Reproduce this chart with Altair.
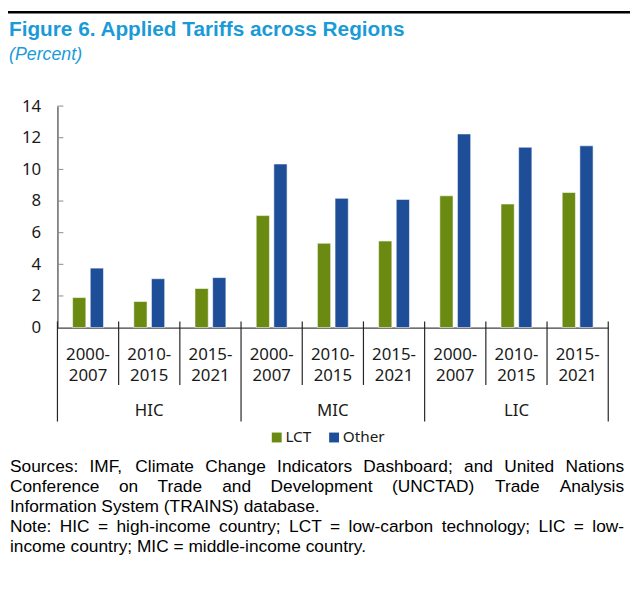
import altair as alt
import pandas as pd

# ---------------- data ----------------
regions = ["HIC", "MIC", "LIC"]
periods = ["2000-2007", "2010-2015", "2015-2021"]
lct = [1.90, 1.65, 2.47, 7.08, 5.33, 5.47, 8.33, 7.81, 8.54]
other = [3.76, 3.09, 3.16, 10.34, 8.17, 8.10, 12.24, 11.40, 11.49]
series = ["LCT", "Other"]
colors = ["#6a8a12", "#1f4e99"]
y_ticks = [0, 2, 4, 6, 8, 10, 12, 14]

title_text = "Figure 6. Applied Tariffs across Regions"
subtitle_text = "(Percent)"
note_lines = [
    ("Sources: IMF, Climate Change Indicators Dashboard; and United Nations", True),
    ("Conference on Trade and Development (UNCTAD) Trade Analysis", True),
    ("Information System (TRAINS) database.", False),
    ("Note: HIC = high-income country; LCT = low-carbon technology; LIC = low-", True),
    ("income country; MIC = middle-income country.", False),
]

# ---------------- tables ----------------
cats = [f"{r} {p}" for r in regions for p in periods]
rows = []
for i, c in enumerate(cats):
    rows.append({"cat": c, "series": "LCT", "value": lct[i]})
    rows.append({"cat": c, "series": "Other", "value": other[i]})
bars_df = pd.DataFrame(rows)

W_PLOT, H_PLOT = 557, 224
xscale = alt.Scale(type="band", domain=cats, paddingInner=0, paddingOuter=0)
yscale = alt.Scale(domain=[0, 14], nice=False)
xaxis = alt.Axis(labels=False, ticks=False, domain=True, domainColor="#404040",
                 domainWidth=1.2, title=None, grid=False)
yaxis = alt.Axis(values=y_ticks, ticks=False, labelPadding=17, grid=False,
                 domain=True, domainColor="#404040", domainWidth=1.2, title=None)

bars = alt.Chart(bars_df).mark_bar(stroke="white", strokeOpacity=0.55, strokeWidth=1).encode(
    x=alt.X("cat:N", scale=xscale, axis=xaxis),
    xOffset=alt.XOffset("series:N", sort=series,
                        scale=alt.Scale(paddingInner=0.25, paddingOuter=0.86)),
    y=alt.Y("value:Q", scale=yscale, axis=yaxis),
    color=alt.Color("series:N", sort=series,
                    scale=alt.Scale(domain=series, range=colors),
                    legend=alt.Legend(orient="none", legendX=214, legendY=327,
                                      direction="horizontal", title=None,
                                      symbolType="square", symbolSize=100,
                                      symbolStrokeWidth=0, labelFont="Noto Sans",
                                      labelFontSize=15.5, labelColor="#1a1a1a",
                                      labelOffset=1, columnPadding=15)),
)

tick_df = pd.DataFrame({"v": y_ticks[1:]})
inner_ticks = alt.Chart(tick_df).mark_rule(color="#8c8c8c", strokeWidth=1).encode(
    y=alt.Y("v:Q", scale=yscale, axis=yaxis),
    x=alt.value(0), x2=alt.value(6),
)

group_start = [f"{r} {periods[0]}" for r in regions]
inner_df = pd.DataFrame({"cat": [c for c in cats if c not in group_start]})
period_div = alt.Chart(inner_df).mark_rule(color="#262626", strokeWidth=1.2).encode(
    x=alt.X("cat:N", scale=xscale, bandPosition=0, axis=xaxis),
    y=alt.value(217.7), y2=alt.value(282),
)

gstart_df = pd.DataFrame({"cat": group_start})
group_div = alt.Chart(gstart_df).mark_rule(color="#262626", strokeWidth=1.2).encode(
    x=alt.X("cat:N", scale=xscale, bandPosition=0, axis=xaxis),
    y=alt.value(217.7), y2=alt.value(319),
)
end_df = pd.DataFrame({"cat": [cats[-1]]})
group_end = alt.Chart(end_df).mark_rule(color="#262626", strokeWidth=1.2).encode(
    x=alt.X("cat:N", scale=xscale, bandPosition=1, axis=xaxis),
    y=alt.value(217.7), y2=alt.value(319),
)

plab_df = pd.DataFrame({"cat": cats,
                        "lab": [p.replace("-", "-\n") for r in regions for p in periods]})
period_labels = alt.Chart(plab_df).mark_text(
    lineBreak="\n", baseline="middle", align="center", lineHeight=21,
    font="Noto Sans", fontSize=17, color="#1a1a1a").encode(
    x=alt.X("cat:N", scale=xscale, bandPosition=0.5, axis=xaxis),
    y=alt.value(251.5), text="lab:N",
)

glab_df = pd.DataFrame({"cat": [f"{r} {periods[1]}" for r in regions], "lab": regions})
group_labels = alt.Chart(glab_df).mark_text(
    baseline="middle", align="center", font="Noto Sans", fontSize=17, color="#1a1a1a").encode(
    x=alt.X("cat:N", scale=xscale, bandPosition=0.5, axis=xaxis),
    y=alt.value(308), text="lab:N",
)

# ---------------- title block ----------------
top_rule = alt.Chart(pd.DataFrame({"a": [0]})).mark_rule(color="black", strokeWidth=2.5).encode(
    x=alt.value(-50), x2=alt.value(579), y=alt.value(-95))
title = alt.Chart(pd.DataFrame({"t": [title_text]})).mark_text(
    align="left", baseline="alphabetic", font="Liberation Sans", fontSize=21,
    fontWeight="bold", color="#1a9bd7").encode(
    x=alt.value(-49), y=alt.value(-70.5), text="t:N")
subtitle = alt.Chart(pd.DataFrame({"t": [subtitle_text]})).mark_text(
    align="left", baseline="alphabetic", font="Liberation Sans", fontSize=18,
    fontStyle="italic", color="#1a9bd7").encode(
    x=alt.value(-49), y=alt.value(-46.5), text="t:N")

# ---------------- footnote (justified, word by word) ----------------
AW = {" ": 278, "(": 333, ")": 333, ",": 278, "-": 333, ".": 278, ":": 278, ";": 278, "=": 584,
      "A": 667, "B": 667, "C": 722, "D": 722, "E": 667, "F": 611, "G": 778, "H": 722, "I": 278,
      "J": 500, "K": 667, "L": 556, "M": 833, "N": 722, "O": 778, "P": 667, "Q": 778, "R": 722,
      "S": 667, "T": 611, "U": 722, "V": 667, "W": 944, "X": 667, "Y": 667, "Z": 611,
      "a": 556, "b": 556, "c": 500, "d": 556, "e": 556, "f": 278, "g": 556, "h": 556, "i": 222,
      "j": 222, "k": 500, "l": 222, "m": 833, "n": 556, "o": 556, "p": 556, "q": 556, "r": 333,
      "s": 500, "t": 278, "u": 556, "v": 500, "w": 722, "x": 500, "y": 500, "z": 500}
FS = 17.5


def tw(s):
    return sum(AW.get(ch, 556) for ch in s) * FS / 1000.0


left, right = -48, 573
note_layers = []
for li, (line, just) in enumerate(note_lines):
    ws = line.split(" ")
    base = 370.2 + 20.1 * li
    if just and len(ws) > 1:
        gap = (right - left - sum(tw(w) for w in ws)) / (len(ws) - 1)
    else:
        gap = tw(" ")
    x = left
    for w in ws:
        note_layers.append(
            alt.Chart(pd.DataFrame({"w": [w]})).mark_text(
                align="left", baseline="alphabetic", font="Liberation Sans",
                fontSize=FS, color="black").encode(
                x=alt.value(x), y=alt.value(base), text="w:N"))
        x += tw(w) + gap

chart = alt.layer(
    bars, inner_ticks, period_div, group_div, group_end, period_labels, group_labels,
    top_rule, title, subtitle, *note_layers,
).properties(
    width=W_PLOT, height=H_PLOT,
    padding={"left": 50, "top": 96, "right": 22, "bottom": 250},
    autosize="none",
).configure_view(stroke=None).configure_axis(
    labelFont="Noto Sans", labelFontSize=17, labelColor="#1a1a1a",
)

chart.save("out.html", embed_options={"renderer": "svg", "actions": False})
